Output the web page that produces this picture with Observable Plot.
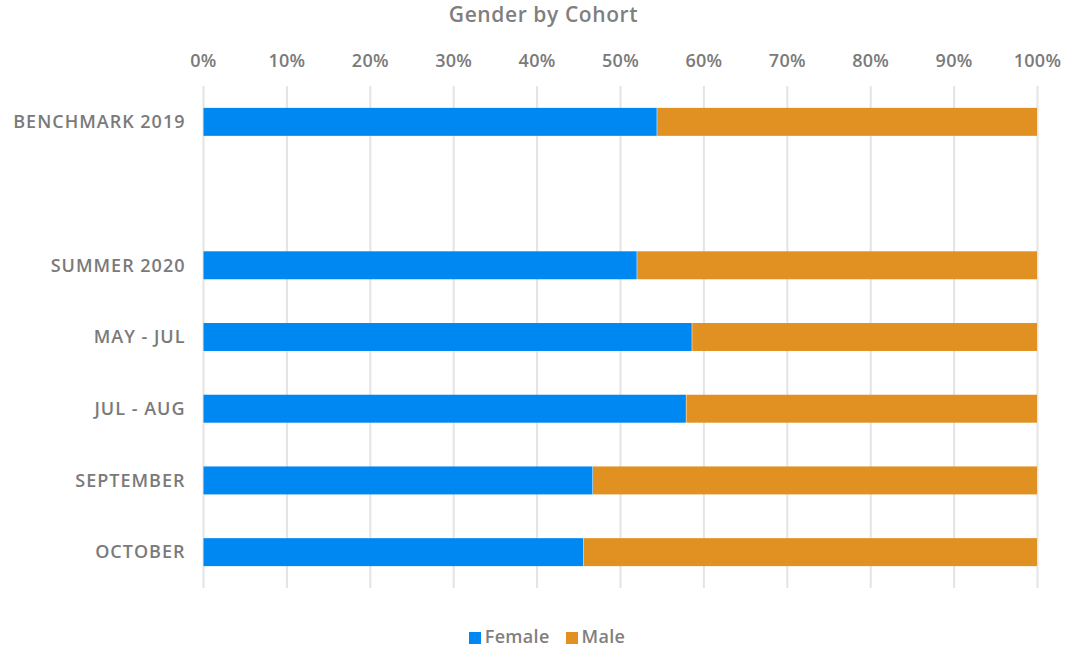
<!DOCTYPE html>
<html>
<head>
<meta charset="utf-8">
<script src="https://cdn.jsdelivr.net/npm/d3@7"></script>
<script src="https://cdn.jsdelivr.net/npm/@observablehq/plot@0.6"></script>
<style>
  html, body { margin: 0; padding: 0; background: #fff; }
  body { width: 1073px; height: 647px; overflow: hidden; font-family: "Open Sans", Lato, sans-serif; }
  #title { height: 28px; line-height: 28px; text-align: center; font-weight: 600; font-size: 21px; color: #7f7f7f; letter-spacing: 0.6px; padding-left: 14px; }
  #legend { margin-top: 25px; height: 22px; line-height: 22px; text-align: center; font-size: 18px; font-weight: 600; color: #7f7f7f; letter-spacing: 0.3px; padding-left: 21px; }
  #legend span.item { display: inline-block; margin: 0 8px; }
  #legend span.sw { display: inline-block; width: 12px; height: 12px; margin-right: 4px; vertical-align: -1px; }
  svg { display: block; }
  svg g[aria-label="y-axis tick label"] text { letter-spacing: 1px; }
  svg g[aria-label="x-axis tick label"] text { letter-spacing: 0.3px; }
</style>
</head>
<body>
<div id="title">Gender by Cohort</div>
<div id="chart"></div>
<div id="legend"></div>
<script>
const cohorts = ["BENCHMARK 2019", "SUMMER 2020", "MAY - JUL", "JUL - AUG", "SEPTEMBER", "OCTOBER"];
const female = [54.4, 52.0, 58.6, 57.9, 46.7, 45.6];
const male = [45.6, 48.0, 41.4, 42.1, 53.3, 54.4];
const series = ["Female", "Male"];
const colors = ["#0088f2", "#e09122"];
const xTicks = [0, 10, 20, 30, 40, 50, 60, 70, 80, 90, 100];
const spacer = " ";
const yDomain = [cohorts[0], spacer, ...cohorts.slice(1)];

const rows = [];
cohorts.forEach((c, i) => {
  rows.push({cohort: c, gender: series[0], value: female[i]});
  rows.push({cohort: c, gender: series[1], value: male[i]});
});

const chart = Plot.plot({
  width: 1073,
  height: 572,
  marginTop: 58,
  marginBottom: 12,
  marginLeft: 203,
  marginRight: 36,
  style: {fontFamily: "'Open Sans', Lato, sans-serif", fontWeight: 600, color: "#7a7a7a", background: "#fff"},
  x: {domain: [0, 100], axis: null},
  y: {domain: yDomain, paddingInner: 0.61, paddingOuter: 0.305, round: false, axis: null},
  color: {domain: series, range: colors},
  marks: [
    Plot.gridX(xTicks, {stroke: "#e4e4e4", strokeOpacity: 1, strokeWidth: 2}),
    Plot.axisX(xTicks, {anchor: "top", tickSize: 0, tickPadding: 20, tickFormat: d => d + "%", fontSize: 18, fill: "#7a7a7a", label: null}),
    Plot.axisY({anchor: "left", tickSize: 0, tickPadding: 18, fontSize: 18, fill: "#7a7a7a", label: null}),
    Plot.barX(rows, Plot.stackX({y: "cohort", x: "value", fill: "gender", order: series, inset: 0, insetLeft: 0.5}))
  ]
});
document.getElementById("chart").appendChild(chart);

const legend = document.getElementById("legend");
series.forEach((s, i) => {
  const item = document.createElement("span");
  item.className = "item";
  const sw = document.createElement("span");
  sw.className = "sw";
  sw.style.background = colors[i];
  item.appendChild(sw);
  item.appendChild(document.createTextNode(s));
  legend.appendChild(item);
});
</script>
</body>
</html>
